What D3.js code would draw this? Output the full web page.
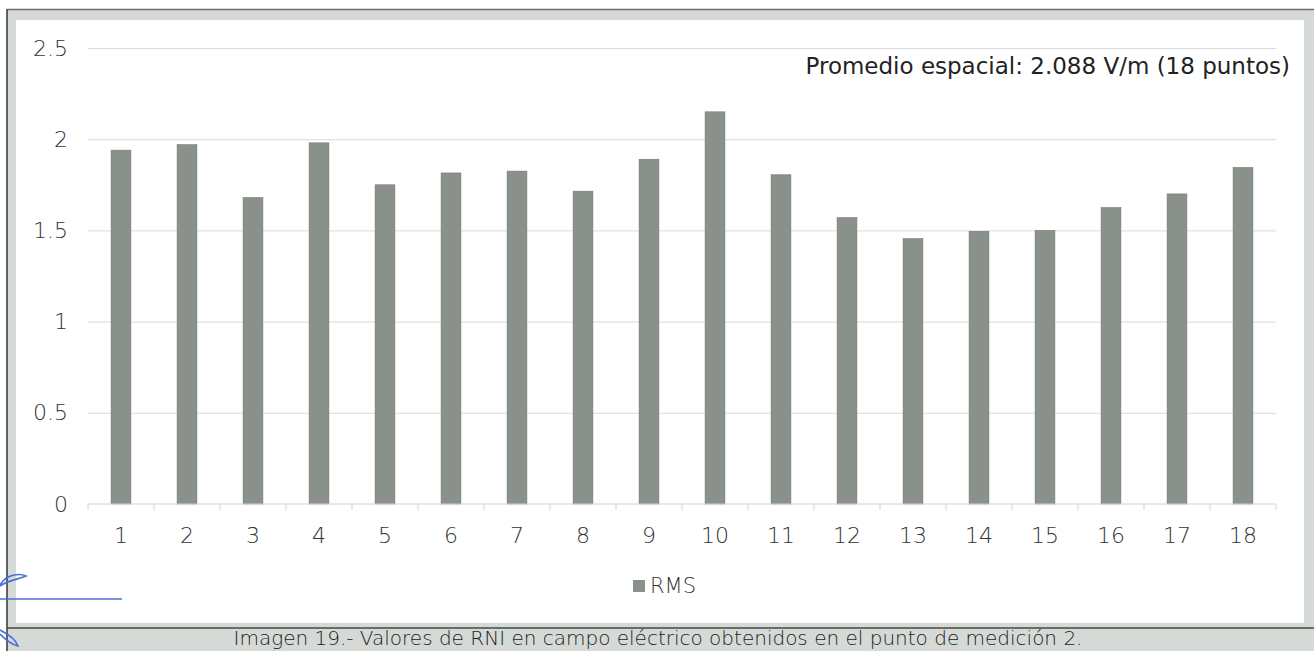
<!DOCTYPE html>
<html>
<head>
<meta charset="utf-8">
<script src="https://cdn.jsdelivr.net/npm/d3@7"></script>
<style>
    body { margin: 0; background: #ffffff; }
    svg { display: block; }
</style>
</head>
<body>
<div class="svg-class"></div>
<script>
// chart data
var puntos = ["1", "2", "3", "4", "5", "6", "7", "8", "9", "10", "11", "12", "13", "14", "15", "16", "17", "18"];
var rms = [1.94, 1.97, 1.68, 1.98, 1.75, 1.815, 1.825, 1.715, 1.89, 2.15, 1.805, 1.57, 1.455, 1.495, 1.5, 1.625, 1.70, 1.845];
var yTicks = [0, 0.5, 1, 1.5, 2, 2.5];
var seriesName = "RMS";
var nota = "Promedio espacial: 2.088 V/m (18 puntos)";
var caption = "Imagen 19.- Valores de RNI en campo eléctrico obtenidos en el punto de medición 2.";

var width = 1314,
    height = 651;
var plot = { left: 88, right: 1276, top: 48, bottom: 504 };
var font = "'DejaVu Sans', sans-serif";
var barColor = "#8a918a";

var svg = d3.select(".svg-class")
    .append("svg")
    .attr("width", width)
    .attr("height", height);

// scanned page frame
svg.append("rect").attr("x", 0).attr("y", 0).attr("width", width).attr("height", height).attr("fill", "#ffffff");
svg.append("rect").attr("x", 7).attr("y", 10).attr("width", width - 7).attr("height", height - 10).attr("fill", "#d6dad7");
svg.append("rect").attr("x", 16).attr("y", 20).attr("width", 1288).attr("height", 603).attr("fill", "#ffffff");
svg.append("line").attr("x1", 7).attr("x2", width).attr("y1", 9.5).attr("y2", 9.5).attr("stroke", "#6e716f").attr("stroke-width", 1.5);
svg.append("line").attr("x1", 7).attr("x2", 7).attr("y1", 9).attr("y2", height).attr("stroke", "#333").attr("stroke-width", 1.5);
svg.append("line").attr("x1", 7).attr("x2", width).attr("y1", 628).attr("y2", 628).attr("stroke", "#444845").attr("stroke-width", 1.5);

// scales
var x = d3.scaleBand()
    .domain(puntos)
    .range([plot.left, plot.right])
    .paddingInner(0.7)
    .paddingOuter(0.35);

var y = d3.scaleLinear()
    .domain([0, 2.5])
    .range([plot.bottom, plot.top]);

// gridlines
svg.append("g")
    .attr("class", "grid")
    .attr("transform", "translate(" + plot.left + ",0)")
    .call(d3.axisLeft(y)
        .tickValues(yTicks.filter(function (d) { return d > 0; }))
        .tickSize(-(plot.right - plot.left))
        .tickFormat(""))
    .call(function (g) { g.select(".domain").remove(); })
    .selectAll("line")
    .attr("stroke", "#dadada")
    .attr("stroke-width", 1);

// y labels
svg.append("g")
    .attr("transform", "translate(" + (plot.left - 20) + ",0)")
    .call(d3.axisLeft(y).tickValues(yTicks).tickSize(0).tickPadding(0).tickFormat(function (d) { return String(d); }))
    .call(function (g) { g.select(".domain").remove(); })
    .selectAll("text")
    .attr("font-family", font)
    .attr("font-size", "22px")
    .attr("font-weight", 300)
    .attr("fill", "#333");

// bars
svg.selectAll(".bar")
    .data(rms)
    .enter()
    .append("rect")
    .attr("class", "bar")
    .attr("x", function (d, i) { return x(puntos[i]); })
    .attr("y", function (d) { return y(d); })
    .attr("width", x.bandwidth())
    .attr("height", function (d) { return y(0) - y(d); })
    .attr("fill", barColor)
    .attr("stroke", "#727a72")
    .attr("stroke-width", 0.6);

// x axis: baseline + ticks between categories
var xAxis = svg.append("g")
    .attr("transform", "translate(0," + plot.bottom + ")");
xAxis.append("line")
    .attr("x1", plot.left).attr("x2", plot.right)
    .attr("stroke", "#d3d3d3");
xAxis.selectAll(".tk")
    .data(d3.range(puntos.length + 1))
    .enter()
    .append("line")
    .attr("class", "tk")
    .attr("x1", function (i) { return plot.left + i * x.step(); })
    .attr("x2", function (i) { return plot.left + i * x.step(); })
    .attr("y1", 0).attr("y2", 6)
    .attr("stroke", "#d3d3d3");
xAxis.selectAll(".lbl")
    .data(puntos)
    .enter()
    .append("text")
    .attr("class", "lbl")
    .attr("x", function (d) { return x(d) + x.bandwidth() / 2; })
    .attr("y", 39)
    .attr("text-anchor", "middle")
    .attr("font-family", font)
    .attr("font-size", "22px")
    .attr("font-weight", 300)
    .attr("fill", "#333")
    .text(function (d) { return d; });

// annotation
svg.append("text")
    .attr("x", 1290)
    .attr("y", 74)
    .attr("text-anchor", "end")
    .attr("font-family", font)
    .attr("font-size", "23px")
    .attr("fill", "#222")
    .text(nota);

// legend
var legend = svg.append("g").attr("transform", "translate(633,580)");
legend.append("rect")
    .attr("width", 12).attr("height", 12)
    .attr("fill", barColor);
legend.append("text")
    .attr("x", 17)
    .attr("y", 13)
    .attr("font-family", font)
    .attr("font-size", "21px")
    .attr("font-weight", 300)
    .attr("fill", "#333")
    .text(seriesName);

// caption in the grey band
svg.append("text")
    .attr("x", 658)
    .attr("y", 645)
    .attr("text-anchor", "middle")
    .attr("font-family", font)
    .attr("font-size", "20px")
    .attr("font-weight", 300)
    .attr("fill", "#222")
    .text(caption);

// pen marks on the left margin
svg.append("path")
    .attr("d", "M0,599 L122,599")
    .attr("stroke", "#4b6fd6").attr("stroke-width", 1.6).attr("fill", "none");
svg.append("path")
    .attr("d", "M0,585 C6,574 20,573 26,576 C20,579 8,580 0,586")
    .attr("stroke", "#4b6fd6").attr("stroke-width", 1.6).attr("fill", "none");
svg.append("path")
    .attr("d", "M0,630 C8,634 16,640 18,646 C10,644 4,638 0,634")
    .attr("stroke", "#4b6fd6").attr("stroke-width", 1.6).attr("fill", "none");
</script>
</body>
</html>
